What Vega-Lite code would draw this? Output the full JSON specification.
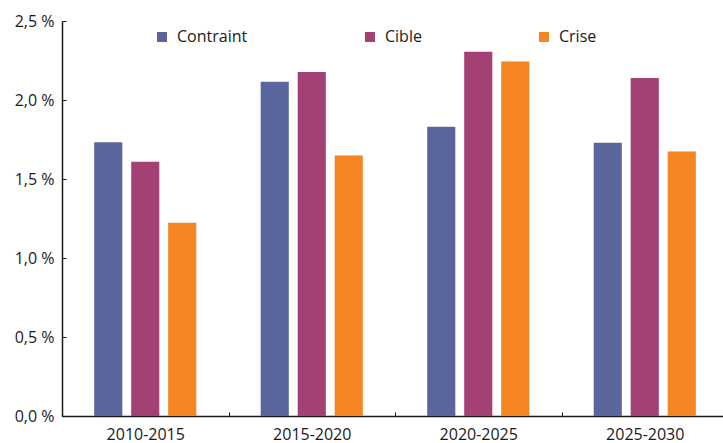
{
  "$schema": "https://vega.github.io/schema/vega-lite/v6.json",
  "autosize": {"type": "none"},
  "padding": {"left": 62, "top": 21, "right": 0, "bottom": 27},
  "width": 666,
  "height": 395,
  "background": "white",
  "config": {
    "view": {"stroke": null},
    "font": "Open Sans",
    "axis": {"labelFont": "Open Sans", "labelColor": "#1a1a1a", "domainColor": "#1a1a1a", "tickColor": "#1a1a1a", "grid": false, "title": null}
  },
  "data": {
    "values": [
      {"periode": "2010-2015", "scenario": "Contraint", "valeur": 1.733},
      {"periode": "2010-2015", "scenario": "Cible", "valeur": 1.609},
      {"periode": "2010-2015", "scenario": "Crise", "valeur": 1.223},
      {"periode": "2015-2020", "scenario": "Contraint", "valeur": 2.116},
      {"periode": "2015-2020", "scenario": "Cible", "valeur": 2.178},
      {"periode": "2015-2020", "scenario": "Crise", "valeur": 1.649},
      {"periode": "2020-2025", "scenario": "Contraint", "valeur": 1.830},
      {"periode": "2020-2025", "scenario": "Cible", "valeur": 2.306},
      {"periode": "2020-2025", "scenario": "Crise", "valeur": 2.243},
      {"periode": "2025-2030", "scenario": "Contraint", "valeur": 1.729},
      {"periode": "2025-2030", "scenario": "Cible", "valeur": 2.140},
      {"periode": "2025-2030", "scenario": "Crise", "valeur": 1.674}
    ]
  },
  "mark": {"type": "bar"},
  "encoding": {
    "x": {
      "field": "periode",
      "type": "nominal",
      "sort": null,
      "scale": {"paddingInner": 0, "paddingOuter": 0},
      "axis": {
        "labelAngle": 0,
        "labelFontSize": 16,
        "labelPadding": 14,
        "tickBand": "extent",
        "tickSize": -4,
        "domainWidth": 1.5,
        "tickWidth": 1
      }
    },
    "xOffset": {
      "field": "scenario",
      "type": "nominal",
      "sort": ["Contraint", "Cible", "Crise"],
      "scale": {"paddingInner": 0.24, "paddingOuter": 0.87}
    },
    "y": {
      "field": "valeur",
      "type": "quantitative",
      "scale": {"domain": [0, 2.5], "nice": false},
      "axis": {
        "values": [0, 0.5, 1, 1.5, 2, 2.5],
        "labelExpr": "replace(format(datum.value, '.1f'), '.', ',') + ' %'",
        "labelFontSize": 16,
        "labelPadding": 12,
        "tickSize": -4,
        "domainWidth": 1.5,
        "tickWidth": 1
      }
    },
    "color": {
      "field": "scenario",
      "type": "nominal",
      "sort": ["Contraint", "Cible", "Crise"],
      "scale": {"domain": ["Contraint", "Cible", "Crise"], "range": ["#5b659d", "#a34074", "#f58423"]},
      "legend": {
        "title": null,
        "orient": "none",
        "direction": "horizontal",
        "legendX": 92,
        "legendY": 8,
        "symbolType": "square",
        "symbolSize": 100,
        "symbolStrokeWidth": 0,
        "labelFontSize": 16,
        "labelColor": "#1a1a1a",
        "labelOffset": 7,
        "columnPadding": 114
      }
    }
  }
}
